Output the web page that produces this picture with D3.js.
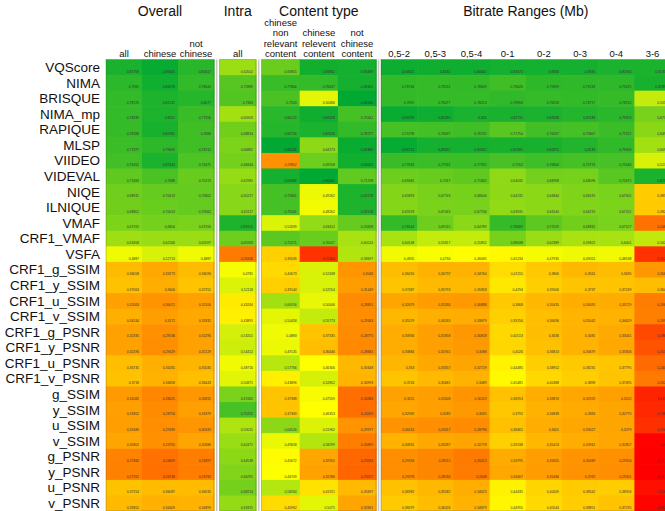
<!DOCTYPE html>
<html><head><meta charset="utf-8">
<script src="https://cdn.jsdelivr.net/npm/d3@7"></script>
<style>body{margin:0;background:#fff} text{font-family:"Liberation Sans",Arial,sans-serif}</style>
</head><body><svg id="c" width="665" height="511"></svg>
<script>
const rows = ["VQScore","NIMA","BRISQUE","NIMA_mp","RAPIQUE","MLSP","VIIDEO","VIDEVAL","NIQE","ILNIQUE","VMAF","CRF1_VMAF","VSFA","CRF1_g_SSIM","CRF1_y_SSIM","CRF1_u_SSIM","CRF1_v_SSIM","CRF1_g_PSNR","CRF1_y_PSNR","CRF1_u_PSNR","CRF1_v_PSNR","g_SSIM","y_SSIM","u_SSIM","v_SSIM","g_PSNR","y_PSNR","u_PSNR","v_PSNR"];

const groupTitles = ["Overall","Intra","Content type","Bitrate Ranges (Mb)"];
const overallCols = [["all"],["chinese"],["not","chinese"]];
const intraCols = [["all"]];
const contentCols = [["chinese","non","relevant","content"],["chinese","relevent","content"],["not","chinese","content"]];
const bitrateCols = [["0,5-2"],["0,5-3"],["0,5-4"],["0-1"],["0-2"],["0-3"],["0-4"],["3-6"]];

const overallAll = [0.82759,0.7981,0.78725,0.78439,0.78186,0.77377,0.76262,0.71683,0.68931,0.68801,0.67192,0.61658,0.4887,0.36058,0.37063,0.32063,0.34244,0.32335,0.32196,0.36735,0.3718,0.31082,0.31852,0.31689,0.32801,0.27482,0.27261,0.37154,0.35852];
const overallChinese = [0.85605,0.84076,0.82131,0.8201,0.82981,0.79609,0.82344,0.7488,0.70613,0.70013,0.6854,0.62166,0.52713,0.33273,0.3406,0.30071,0.3172,0.29536,0.29429,0.34265,0.34858,0.28025,0.28756,0.29189,0.29765,0.24809,0.24736,0.36087,0.34409];
const overallNotChinese = [0.80417,0.78644,0.8077,0.77556,0.7666,0.76712,0.74475,0.70223,0.70802,0.70562,0.67594,0.62097,0.4887,0.36096,0.37251,0.32106,0.33331,0.32296,0.32129,0.35035,0.36443,0.30815,0.31879,0.30319,0.32686,0.26897,0.26782,0.36035,0.34899];
const intraAll = [0.62002,0.72889,0.7363,0.60903,0.68814,0.66881,0.68444,0.62981,0.65217,0.65117,0.81912,0.69263,0.26166,0.4781,0.52118,0.43264,0.43891,0.53201,0.54412,0.48716,0.50871,0.67462,0.75292,0.59015,0.62471,0.64538,0.66291,0.68214,0.63315];
const contentNonRelevant = [0.69855,0.77864,0.7503,0.80122,0.80734,0.86544,0.29852,0.83489,0.75841,0.75541,0.52099,0.72271,0.39039,0.40673,0.39144,0.60956,0.50458,0.4883,0.49135,0.57766,0.43896,0.37388,0.37309,0.64526,0.49658,0.45672,0.46709,0.58264,0.40962];
const contentRelevant = [0.83862,0.78437,0.50686,0.84328,0.82626,0.64273,0.69558,0.86682,0.49262,0.48262,0.63412,0.70027,0.15364,0.52438,0.52554,0.50006,0.55773,0.37335,0.36446,0.46306,0.52852,0.47559,0.46353,0.51962,0.58299,0.32955,0.32286,0.41921,0.5075];
const contentNotChinese = [0.83489,0.83301,0.86586,0.75642,0.78727,0.85389,0.84001,0.71298,0.82218,0.81918,0.70698,0.60024,0.58697,0.3046,0.31449,0.28851,0.29343,0.28775,0.28681,0.35648,0.34993,0.24384,0.24569,0.29977,0.26899,0.23343,0.23257,0.35697,0.32661];
const br05_2 = [0.84825,0.78746,0.7859,0.85378,0.75798,0.85712,0.77634,0.69481,0.65893,0.65593,0.78544,0.60148,0.4855,0.36416,0.37487,0.32679,0.35579,0.33936,0.33884,0.353,0.3743,0.3211,0.32969,0.30114,0.34831,0.29333,0.29378,0.36982,0.38479];
const br05_3 = [0.8431,0.78131,0.78077,0.84285,0.76097,0.83352,0.77531,0.7017,0.67743,0.67443,0.69115,0.55817,0.4734,0.34737,0.35793,0.31334,0.34183,0.31858,0.31941,0.33357,0.35681,0.31608,0.3185,0.29417,0.33287,0.28115,0.28184,0.35582,0.36426];
const br05_4 = [0.84402,0.78609,0.78213,0.826,0.76732,0.83362,0.77325,0.71682,0.68006,0.67706,0.64789,0.55852,0.46085,0.34764,0.35858,0.30888,0.33879,0.30818,0.3088,0.32729,0.3489,0.30119,0.3091,0.28796,0.32778,0.26412,0.2648,0.34025,0.34879];
const br0_1 = [0.83475,0.76626,0.78994,0.82711,0.72754,0.82981,0.7552,0.64032,0.64231,0.63931,0.78089,0.68038,0.45234,0.41155,0.4294,0.3808,0.39256,0.40513,0.4026,0.44485,0.45481,0.36953,0.3792,0.36801,0.39238,0.33795,0.33407,0.44435,0.44955];
const br0_2 = [0.8356,0.79499,0.78258,0.82638,0.76207,0.82875,0.76804,0.68398,0.64844,0.64544,0.71929,0.62389,0.47935,0.3806,0.39006,0.35435,0.36496,0.3636,0.36813,0.38952,0.40388,0.33874,0.34838,0.3401,0.35413,0.31655,0.31486,0.40009,0.40544];
const br0_3 = [0.8335,0.79233,0.78717,0.81188,0.75807,0.8139,0.75774,0.68096,0.66519,0.66219,0.68831,0.59822,0.49051,0.3561,0.3737,0.34095,0.35042,0.3481,0.34679,0.38231,0.3898,0.32929,0.3363,0.33027,0.33961,0.30089,0.2992,0.38542,0.38851];
const br0_4 = [0.82566,0.79475,0.78152,0.79923,0.77521,0.79094,0.75446,0.72675,0.67501,0.67201,0.67527,0.6001,0.48538,0.3635,0.37249,0.33729,0.34629,0.33441,0.33306,0.37795,0.37495,0.3202,0.32775,0.3279,0.32857,0.29554,0.29301,0.38594,0.37195];
const br3_6 = [0.82353,0.82891,0.5551,0.6775,0.6493,0.6093,0.5271,0.8257,0.3856,0.3826,0.2489,0.5621,0.1527,0.3061,0.3641,0.2661,0.2691,0.1861,0.2031,0.2401,0.2621,0.1311,0.1381,0.1501,0.08,0.0775,0.0775,0.1001,0.0821];

const blocks = [
  {title: groupTitles[0], cols: overallCols, series: [overallAll, overallChinese, overallNotChinese]},
  {title: groupTitles[1], cols: intraCols, series: [intraAll]},
  {title: groupTitles[2], cols: contentCols, series: [contentNonRelevant, contentRelevant, contentNotChinese]},
  {title: groupTitles[3], cols: bitrateCols, series: [br05_2, br05_3, br05_4, br0_1, br0_2, br0_3, br0_4, br3_6]}
];
// layout (style only)
const layout = [{x0:106, w:36}, {x0:219.5, w:36.5}, {x0:261.5, w:38.2}, {x0:381, w:36.2}];
const gridTop = 59.5, rowH = 15.57;

const svg = d3.select("#c");
svg.append("rect").attr("width",665).attr("height",511).attr("fill","#fff");

const y = d3.scaleBand().domain(rows).range([gridTop, gridTop + rows.length*rowH]);

const allVals = blocks.flatMap(b => b.series.flat()).sort(d3.ascending);
const color = d3.scaleLinear()
  .domain([d3.min(allVals), d3.quantile(allVals, 0.5), d3.max(allVals)])
  .range(["#ff0000", "#ffff00", "#00a933"])
  .interpolate(d3.interpolateRgb);

const fmt = v => String(v).replace(".", ",");

blocks.forEach((b, bi) => {
  const L = layout[bi];
  const keys = b.cols.map((c, i) => i);
  const x = d3.scaleBand().domain(keys).range([L.x0, L.x0 + keys.length*L.w]);
  const g = svg.append("g");
  const cells = [];
  b.series.forEach((s, ci) => s.forEach((v, ri) => cells.push({ci, row: rows[ri], v})));
  g.selectAll("rect.cell").data(cells).join("rect")
    .attr("class","cell")
    .attr("x", d => x(d.ci)).attr("y", d => y(d.row))
    .attr("width", x.bandwidth() + 0.6).attr("height", y.bandwidth() + 0.6)
    .attr("fill", d => color(d.v));
  g.selectAll("text.val").data(cells).join("text")
    .attr("class","val")
    .attr("x", d => x(d.ci) + x.bandwidth() - 3)
    .attr("y", d => y(d.row) + y.bandwidth() - 2.3)
    .attr("text-anchor","end").attr("font-size", 3.4).attr("fill","#333")
    .text(d => fmt(d.v));
  g.append("rect").attr("x", L.x0).attr("y", gridTop)
    .attr("width", keys.length*L.w).attr("height", rows.length*rowH)
    .attr("fill","none").attr("stroke","rgba(60,60,0,0.35)").attr("stroke-width",0.8);
  svg.append("text").attr("x", L.x0 + keys.length*L.w/2).attr("y", 16)
    .attr("text-anchor","middle").attr("font-size", 14).attr("fill","#111").text(b.title);
  b.cols.forEach((lines, ci) => {
    const n = lines.length;
    lines.forEach((ln, li) => {
      svg.append("text").attr("x", x(ci) + x.bandwidth()/2)
        .attr("y", 57 - (n - 1 - li)*10.3)
        .attr("text-anchor","middle").attr("font-size", 9.5).attr("fill","#111").text(ln);
    });
  });
});

for (let i = 0; i < layout.length - 1; i++) {
  const endX = layout[i].x0 + blocks[i].cols.length*layout[i].w;
  const gx = (endX + layout[i+1].x0)/2;
  svg.append("line").attr("x1", gx).attr("x2", gx).attr("y1", gridTop).attr("y2", 511)
    .attr("stroke","#c8c8c8").attr("stroke-width",1.5);
}

svg.selectAll("text.rowlab").data(rows).join("text")
  .attr("class","rowlab")
  .attr("x", 100).attr("y", d => y(d) + y.bandwidth() - 3)
  .attr("text-anchor","end").attr("font-size", 13.5).attr("fill","#111")
  .text(d => d);
</script></body></html>
